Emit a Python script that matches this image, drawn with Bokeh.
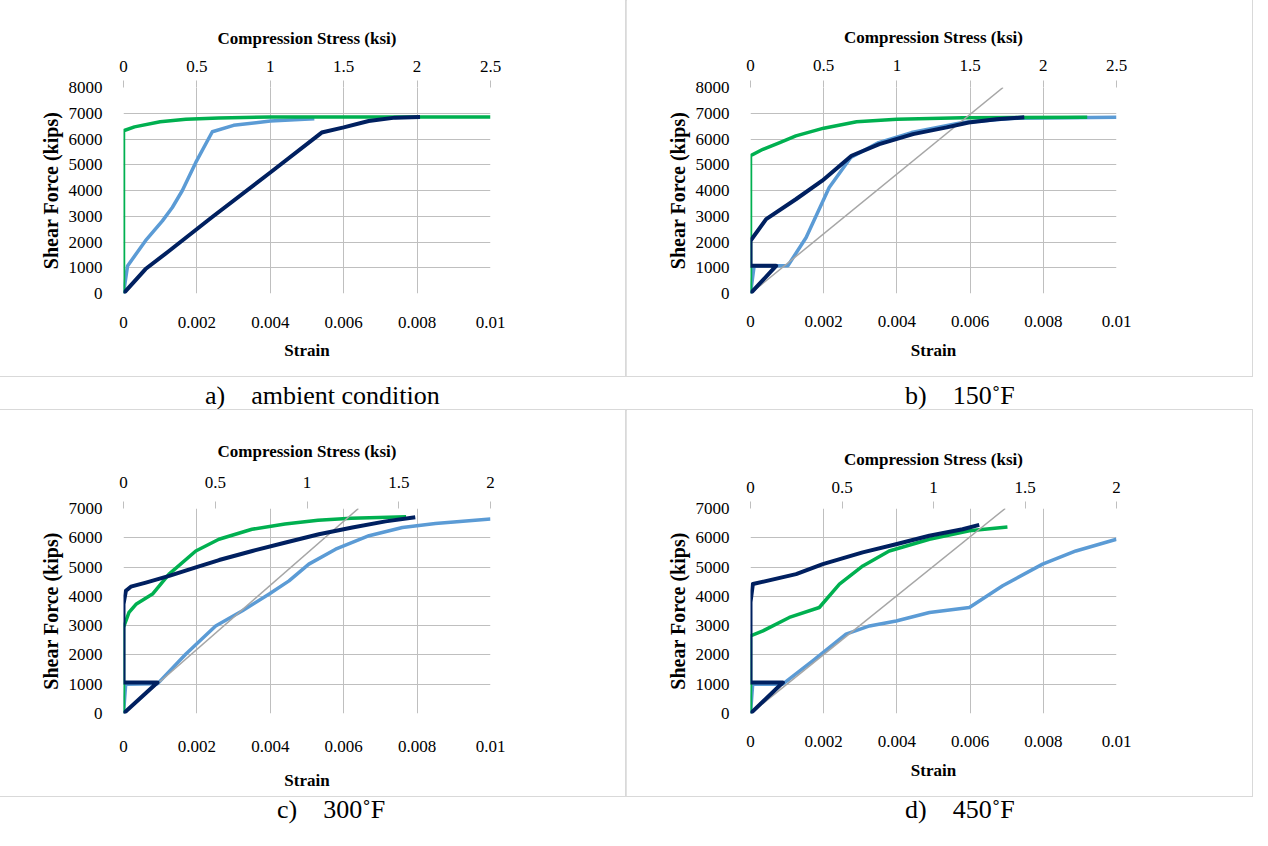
from bokeh.plotting import figure
from bokeh.models import (Range1d, LinearAxis, FixedTicker, CustomJSTickFormatter,
                          Legend, LegendItem, Label, Div)
from bokeh.layouts import column, row
from bokeh.embed import file_html
from bokeh.resources import INLINE

# ---------------- data ----------------
STRAIN_TICKS = [0, 0.002, 0.004, 0.006, 0.008, 0.01]
KSI_TICKS_25 = [0, 0.5, 1, 1.5, 2, 2.5]
KSI_TICKS_20 = [0, 0.5, 1, 1.5, 2]
FORCE_TICKS_8 = [0, 1000, 2000, 3000, 4000, 5000, 6000, 7000, 8000]
FORCE_TICKS_7 = [0, 1000, 2000, 3000, 4000, 5000, 6000, 7000]

# a) ambient
A_SHEAR_STRAIN = [0, 0.00011, 0.0006, 0.00106, 0.00133, 0.0016, 0.00197, 0.00242, 0.003, 0.004, 0.0052]
A_SHEAR_FORCE = [0, 1070, 2050, 2820, 3340, 3990, 5090, 6280, 6530, 6700, 6790]
A_STEEL_STRAIN = [0, 0, 0.0003, 0.001, 0.0017, 0.0026, 0.004, 0.01]
A_STEEL_FORCE = [0, 6320, 6470, 6670, 6770, 6820, 6850, 6850]
A_PRINC_KSI = [0, 0.15, 0.31, 0.6, 1.0, 1.35, 1.5, 1.67, 1.85, 2.02]
A_PRINC_FORCE = [0, 950, 1650, 2950, 4700, 6250, 6450, 6700, 6830, 6850]

# b) 150F
B_SHEAR_STRAIN = [0, 0.0001, 0.00102, 0.00152, 0.00215, 0.00274, 0.0035, 0.0044, 0.0058, 0.0071, 0.01]
B_SHEAR_FORCE = [0, 1075, 1075, 2175, 4120, 5280, 5860, 6250, 6640, 6800, 6840]
B_STEEL_STRAIN = [0, 0, 0.00034, 0.0008, 0.00124, 0.002, 0.0029, 0.004, 0.0058, 0.0092]
B_STEEL_FORCE = [0, 5350, 5600, 5860, 6120, 6420, 6670, 6770, 6830, 6840]
B_KS_STRAIN = [0, 0.0069]
B_KS_FORCE = [0, 8000]
B_PRINC_KSI = [0, 0.175, 0, 0, 0.107, 0.31, 0.49, 0.69, 0.88, 1.11, 1.34, 1.49, 1.68, 1.87]
B_PRINC_FORCE = [0, 1075, 1075, 2050, 2890, 3660, 4380, 5350, 5800, 6190, 6450, 6640, 6770, 6840]

# c) 300F
C_SHEAR_STRAIN = [0, 0.00006, 0.00093, 0.0017, 0.00251, 0.00324, 0.00397, 0.00451, 0.00505,
                  0.00578, 0.00669, 0.0076, 0.0085, 0.01]
C_SHEAR_FORCE = [0, 1000, 1020, 2030, 2990, 3510, 4080, 4530, 5100, 5610, 6070, 6350, 6490, 6640]
C_STEEL_STRAIN = [0, 0, 0.00015, 0.00034, 0.00079, 0.00124, 0.00197, 0.0026, 0.0035, 0.0044,
                  0.0053, 0.0062, 0.0077]
C_STEEL_FORCE = [0, 2940, 3450, 3730, 4080, 4760, 5550, 5950, 6290, 6470, 6600, 6670, 6715]
C_KS_STRAIN = [0, 0.0064]
C_KS_FORCE = [0, 7000]
C_PRINC_KSI = [0, 0.185, 0, 0, 0.013, 0.04, 0.122, 0.249, 0.394, 0.521, 0.702, 0.884, 1.065,
               1.247, 1.428, 1.59]
C_PRINC_FORCE = [0, 1060, 1060, 3730, 4190, 4330, 4470, 4700, 4990, 5240, 5550, 5840, 6120,
                 6350, 6560, 6700]

# d) 450F
D_SHEAR_STRAIN = [0, 0.00006, 0.00088, 0.0017, 0.00261, 0.00325, 0.00398, 0.00489, 0.00598,
                  0.00689, 0.00798, 0.00889, 0.01]
D_SHEAR_FORCE = [0, 1000, 1000, 1800, 2710, 2990, 3160, 3450, 3620, 4360, 5100, 5550, 5950]
D_STEEL_STRAIN = [0, 0, 0.00034, 0.00106, 0.00188, 0.00243, 0.00307, 0.00379, 0.00489, 0.00598, 0.00702]
D_STEEL_FORCE = [0, 2650, 2820, 3280, 3620, 4420, 5040, 5550, 5950, 6240, 6370]
D_KS_STRAIN = [0, 0.00696]
D_KS_FORCE = [0, 7000]
D_PRINC_KSI = [0, 0.177, 0, 0, 0.013, 0.249, 0.395, 0.613, 0.795, 0.977, 1.159, 1.25]
D_PRINC_FORCE = [0, 1060, 1060, 3800, 4420, 4760, 5100, 5500, 5780, 6070, 6290, 6440]

TITLES = ["ρ = 2% - Ambient", "ρ = 2% - 150F", "ρ = 2% - 300F", "ρ = 2% - 450F"]
CAPTIONS = ["a)    ambient condition", "b)    150˚F", "c)    300˚F", "d)    450˚F"]

# ---------------- style ----------------
FONT = "Liberation Serif"
GRID = "#BFBFBF"
C_SHEAR = "#5B9BD5"
C_STEEL = "#00B050"
C_KS = "#A6A6A6"
C_PRINC = "#002060"

fmt_code = "return String(tick);"


def make_panel(title, ymax, yticks, ksi_max, ksi_ticks, shear, steel, ks, princ,
               legend_labels, extra_lines, geom, leg, axis_sp):
    fl, ft, fw, fh, fr, fb = geom
    p = figure(frame_width=fw, frame_height=fh, min_border_left=fl, min_border_top=ft,
               min_border_right=fr, min_border_bottom=fb, title=None,
               x_range=Range1d(0, 0.01), y_range=Range1d(0, ymax),
               output_backend="svg", toolbar_location=None,
               x_axis_label="Strain", y_axis_label="Shear Force (kips)")
    p.outline_line_color = None
    p.background_fill_color = "white"
    p.border_fill_color = "white"
    p.styles = {"outline": "1px solid #D9D9D9"}
    p.extra_x_ranges = {"ksi": Range1d(0, ksi_max)}

    bx = p.below[0]
    ly = p.left[0]
    bx.ticker = FixedTicker(ticks=STRAIN_TICKS)
    ly.ticker = FixedTicker(ticks=yticks)
    top = LinearAxis(x_range_name="ksi", axis_label="Compression Stress (ksi)",
                     ticker=FixedTicker(ticks=ksi_ticks))
    p.add_layout(top, "above")

    b_ls, b_as, t_ls, t_as = axis_sp
    for ax in (bx, ly, top):
        ax.formatter = CustomJSTickFormatter(code=fmt_code)
        ax.axis_line_color = None
        ax.minor_tick_line_color = None
        ax.major_label_text_font = FONT
        ax.major_label_text_font_size = "17px"
        ax.major_label_text_color = "black"
        ax.axis_label_text_font = FONT
        ax.axis_label_text_font_style = "bold"
        ax.axis_label_text_font_size = "17px"
        ax.axis_label_text_color = "black"
    bx.major_tick_line_color = None
    ly.major_tick_line_color = None
    bx.major_label_standoff = b_ls
    bx.axis_label_standoff = b_as
    ly.major_label_standoff = 15
    ly.axis_label_standoff = 4
    ly.axis_label_text_font_size = "20px"
    top.major_tick_line_color = GRID
    top.major_tick_out = 7
    top.major_tick_in = 0
    top.major_label_standoff = t_ls
    top.axis_label_standoff = t_as

    p.xgrid[0].ticker = FixedTicker(ticks=STRAIN_TICKS)
    p.ygrid[0].ticker = FixedTicker(ticks=yticks)
    for g in (p.xgrid[0], p.ygrid[0]):
        g.grid_line_color = GRID
        g.grid_line_width = 1

    r_shear = p.line(shear[0], shear[1], line_color=C_SHEAR, line_width=3.5, line_join="round")
    r_steel = p.line(steel[0], steel[1], line_color=C_STEEL, line_width=3.5, line_join="round")
    renderers = [r_shear, r_steel]
    if ks is not None:
        r_ks = p.line(ks[0], ks[1], line_color=C_KS, line_width=1.5)
        renderers.append(r_ks)
    r_princ = p.line(princ[0], princ[1], x_range_name="ksi", line_color=C_PRINC,
                     line_width=4, line_join="round")
    renderers.append(r_princ)

    vx, vy, spacing, standoff = leg
    items = [LegendItem(label=lab, renderers=[r]) for lab, r in zip(legend_labels, renderers)]
    legend = Legend(items=items, location=(vx, vy), orientation="vertical",
                    label_text_font=FONT, label_text_font_size="17px", label_text_color="black",
                    label_height=20, glyph_height=20, glyph_width=30, label_standoff=standoff,
                    spacing=spacing, padding=0, margin=0, border_line_color=None,
                    background_fill_alpha=0)
    p.add_layout(legend)

    for txt, x, y in extra_lines:
        p.add_layout(Label(x=x, y=y, x_units="screen", y_units="screen", text=txt,
                           text_font=FONT, text_font_size="17px", text_color="black",
                           text_baseline="middle", text_align="left"))

    p.add_layout(Label(x=-106, y=title[1], x_units="screen", y_units="screen", text=title[0],
                       text_font=FONT, text_font_size="20px", text_font_style="bold",
                       text_color="black", text_baseline="middle", text_align="left"))
    return p


pa = make_panel((TITLES[0], 269), 8000, FORCE_TICKS_8, 2.5, KSI_TICKS_25,
                (A_SHEAR_STRAIN, A_SHEAR_FORCE), (A_STEEL_STRAIN, A_STEEL_FORCE), None,
                (A_PRINC_KSI, A_PRINC_FORCE),
                ["Panel", "Steel", "Principal"],
                [("Shear", 426, 177), ("Strain", 426, 153), ("Plastic", 426, 97),
                 ("Strain", 426, 72), ("Comp.", 426, 16), ("Stress", 426, -8)],
                (123, 87, 367, 206, 136, 83), (394, 32, 61, 2), (17, 10, 9, 10))

pb = make_panel((TITLES[1], 269), 8000, FORCE_TICKS_8, 2.5, KSI_TICKS_25,
                (B_SHEAR_STRAIN, B_SHEAR_FORCE), (B_STEEL_STRAIN, B_STEEL_FORCE),
                (B_KS_STRAIN, B_KS_FORCE), (B_PRINC_KSI, B_PRINC_FORCE),
                ["Panel Shear", "Steel", "Ks", "Principal"],
                [("Strain", 413, 209), ("Plastic", 413, 141), ("Strain", 413, 116),
                 ("Comp.", 413, 5), ("Stress", 413, -21)],
                (124, 87, 366, 206, 136, 83), (380, 19, 49, 3), (16, 11, 10, 10))

pc = make_panel((TITLES[2], 264), 7000, FORCE_TICKS_7, 2, KSI_TICKS_20,
                (C_SHEAR_STRAIN, C_SHEAR_FORCE), (C_STEEL_STRAIN, C_STEEL_FORCE),
                (C_KS_STRAIN, C_KS_FORCE), (C_PRINC_KSI, C_PRINC_FORCE),
                ["Panel Shear", "Steel Plastic", "Ks", "Principal"],
                [("Strain", 411, 206), ("Strain", 411, 129), ("Comp.", 411, -24),
                 ("Stress", 411, -52)],
                (123, 98, 367, 205, 136, 83), (379, -5, 57, 2), (21, 16, 14, 13))

pd_ = make_panel((TITLES[3], 268), 7000, FORCE_TICKS_7, 2, KSI_TICKS_20,
                 (D_SHEAR_STRAIN, D_SHEAR_FORCE), (D_STEEL_STRAIN, D_STEEL_FORCE),
                 (D_KS_STRAIN, D_KS_FORCE), (D_PRINC_KSI, D_PRINC_FORCE),
                 ["Panel Shear", "Steel Plastic", "Ks", "Principal"],
                 [("Strain", 410, 206), ("Strain", 410, 141), ("Comp.", 410, 8),
                  ("Stress", 410, -16)],
                 (124, 98, 366, 205, 136, 83), (377, 23, 46, 3), (16, 11, 9, 10))


def caption(text, pad_left, h, pad_top, lh):
    html = ('<div style="font-family:\'Liberation Serif\';font-size:26px;white-space:pre;'
            f'padding-left:{pad_left}px;padding-top:{pad_top}px;line-height:{lh}px;color:#000;">'
            f'{text}</div>')
    return Div(text=html, width=626, height=h, margin=0)


cap_a = caption(CAPTIONS[0], 205, 34, 6, 28)
cap_b = caption(CAPTIONS[1], 279, 34, 6, 28)
cap_c = caption(CAPTIONS[2], 277, 26, 2, 24)
cap_d = caption(CAPTIONS[3], 279, 26, 2, 24)

layout = column(row(pa, pb), row(cap_a, cap_b), row(pc, pd_), row(cap_c, cap_d))

open("out.html", "w").write(file_html(layout, INLINE))
